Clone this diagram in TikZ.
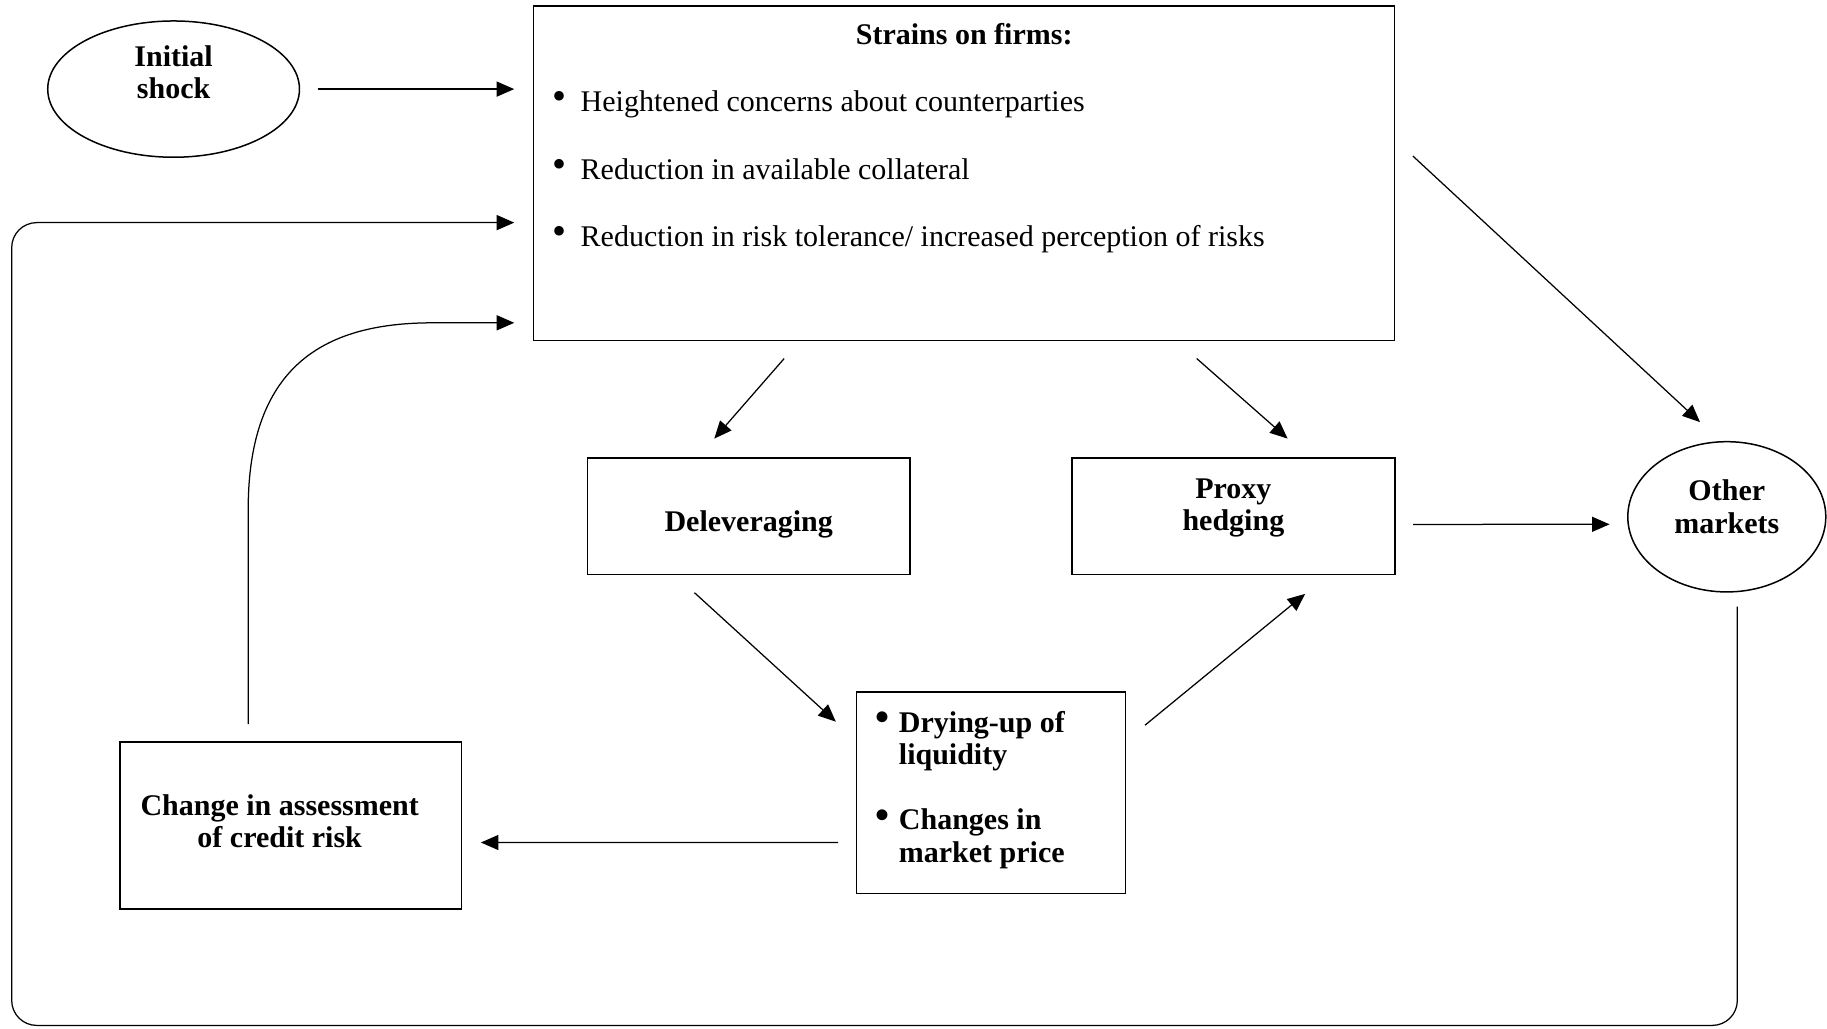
\documentclass[tikz,border=0pt]{standalone}
\usepackage{fontspec}
\setmainfont{Liberation Serif}
\usetikzlibrary{arrows.meta,positioning,calc,shapes.geometric}
\newcommand{\dotmark}{\raisebox{0.6pt}{\fontsize{16}{16}\selectfont\textbullet}}

\begin{document}
\begin{tikzpicture}[x=0.4pt,y=-0.4pt,>={Triangle[length=7pt,width=6pt]},
  font=\fontsize{12}{13}\selectfont,
  box/.style={draw,line width=0.6pt,inner sep=0pt},
  oval/.style={draw,ellipse,line width=0.6pt,inner sep=0pt},
  lbl/.style={font=\fontsize{12}{13}\selectfont\bfseries,align=center,inner sep=0pt},
  item/.style={anchor=west,inner sep=0pt},
  arr/.style={->,line width=0.5pt}]
\useasboundingbox (0,0) rectangle (1827,1028);
% shapes
\node[oval,minimum width=100.7pt,minimum height=54.5pt] (shock) at (173.6,89.1) {};
\node[box,minimum width=344.4pt,minimum height=133.8pt] (strains) at (964.2,173) {};
\node[box,minimum width=129.1pt,minimum height=46.6pt] (delev) at (748.7,516.2) {};
\node[box,minimum width=129.1pt,minimum height=46.6pt] (proxy) at (1233.4,516.2) {};
\node[oval,minimum width=79.2pt,minimum height=60.1pt] (other) at (1726.8,516.8) {};
\node[box,minimum width=107.7pt,minimum height=80.6pt] (drying) at (991,792.9) {};
\node[box,minimum width=136.6pt,minimum height=66.7pt] (change) at (290.7,825.6) {};
% texts
\node[lbl] (shocktext) at ($(shock.center)+(0,-17)$) {Initial\\shock};
\node[lbl] (strainstitle) at ($(strains.north)+(0,29.2)$) {Strains on firms:};
\node[item] (itema) at ($(strains.north west)+(19.5,99)$) {\dotmark\hspace{5.5pt}Heightened concerns about counterparties};
\node[item] (itemb) at ($(strains.north west)+(19.5,164)$) {\dotmark\hspace{5.5pt}Reduction in available collateral};
\node[item] (itemc) at ($(strains.north west)+(19.5,234)$) {\dotmark\hspace{5.5pt}Reduction in risk tolerance/ increased perception of risks};
\node[lbl] (delevtext) at ($(delev.center)+(0,8)$) {Deleveraging};
\node[lbl] (proxytext) at ($(proxy.center)+(0,-8)$) {Proxy\\hedging};
\node[lbl] (othertext) at ($(other.center)+(0,-10)$) {Other\\markets};
\node[lbl,anchor=west] (dryingtext) at ($(drying.west)+(19.8,-2.4)$) {%
  \begin{tabular}{@{}l@{\hspace{3.6pt}}l@{}}
  \dotmark & Drying-up of\\
   & liquidity\\[13pt]
  \dotmark & Changes in\\
   & market price
  \end{tabular}};
\node[lbl] (changetext) at ($(change.center)+(-11,-4.6)$) {Change in assessment\\of credit risk};
% connectors
\coordinate (loopcorner) at (11.7,1025.4);
\draw[arr,shorten <=7pt,shorten >=7.5pt] (shock.east) -- (shock.east -| strains.west);
\draw[arr,rounded corners=10pt] ($(other.south)+(10.5,14)$) |- (loopcorner) |- ($(strains.west)+(-18.7,49.6)$);
\draw[arr] ($(change.north)+(-42.5,-17.4)$) -- ($(change.north)+(-42.5,-232)$)
  .. controls ($(change.north)+(-42.5,-380)$) and ($(strains.west)+(-203.7,149.8)$) .. ($(strains.west)+(-100,149.8)$)
  -- ($(strains.west)+(-18.7,149.8)$);
\draw[arr] ($(strains.south)+(-180,17.5)$) -- ($(delev.north)+(-34.4,-18.6)$);
\draw[arr] ($(strains.south)+(232.5,17.5)$) -- ($(proxy.north)+(54.2,-18.6)$);
\draw[arr] ($(strains.east)+(17.5,-16.9)$) -- ($(other.north)+(-26.8,-18.8)$);
\draw[arr] ($(proxy.east)+(17.5,8.2)$) -- ($(other.west)+(-17.5,7.5)$);
\draw[arr] ($(delev.south)+(-54.2,17.5)$) -- ($(drying.north west)+(-19.8,30.3)$);
\draw[arr] ($(drying.north east)+(18.6,33.8)$) -- ($(proxy.south)+(71.7,18.7)$);
\draw[arr] ($(drying.west)+(-17.4,49.5)$) -- ($(change.east)+(18.7,16.9)$);
\end{tikzpicture}
\end{document}
